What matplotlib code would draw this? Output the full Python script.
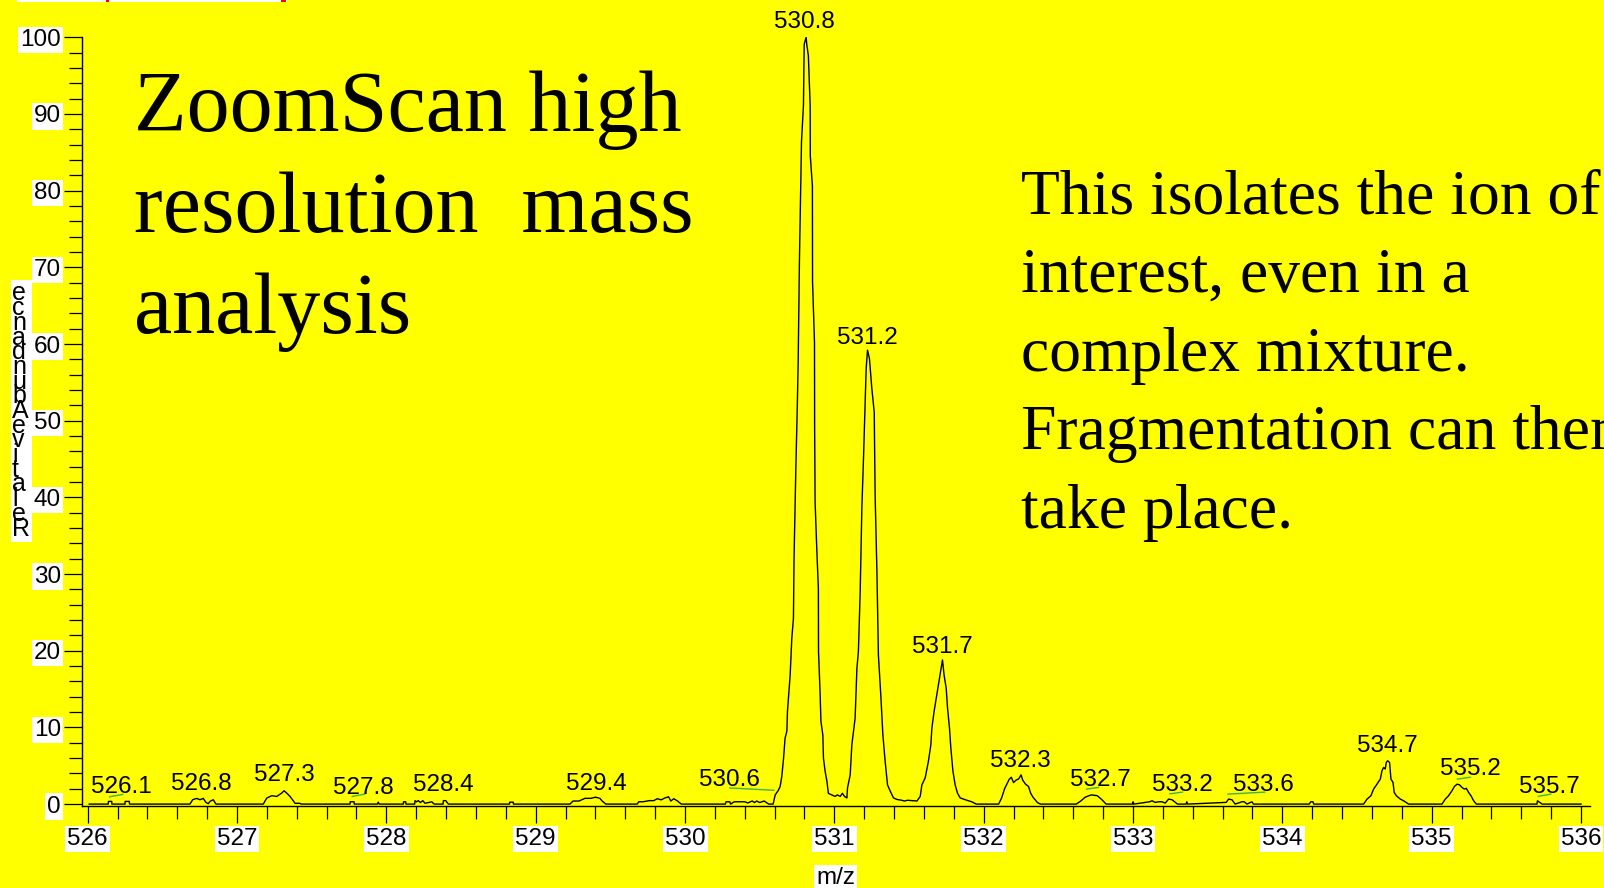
import matplotlib
matplotlib.use('Agg')
import matplotlib.pyplot as plt
from matplotlib.ticker import MultipleLocator, FormatStrFormatter
from matplotlib.patches import Rectangle

# profile spectrum (m/z, relative abundance)
mz = [526.01, 526.138, 526.139, 526.161, 526.162, 526.25, 526.251, 526.279, 526.28,
      526.685, 526.703, 526.73, 526.752, 526.774, 526.792, 526.808, 526.819, 526.841, 526.859,
      527.176, 527.199, 527.232, 527.266, 527.299, 527.315, 527.333, 527.355, 527.389, 527.42, 527.43,
      527.757, 527.758, 527.784, 527.785, 527.94, 527.946, 527.952,
      528.114, 528.115, 528.13, 528.131, 528.19, 528.192, 528.203, 528.214, 528.228, 528.244,
      528.259, 528.304, 528.32, 528.38, 528.382, 528.398, 528.415,
      528.825, 528.826, 528.85, 528.851,
      529.23, 529.25, 529.29, 529.33, 529.37, 529.40, 529.43, 529.445, 529.47,
      529.68, 529.69, 529.72, 529.76, 529.79, 529.815, 529.84, 529.865, 529.89, 529.905,
      529.925, 529.95, 529.975,
      530.27, 530.275, 530.30, 530.305, 530.33, 530.40, 530.42, 530.45, 530.465, 530.48,
      530.50, 530.53, 530.56,
      530.59, 530.604, 530.625, 530.637, 530.648, 530.66, 530.67, 530.682, 530.686, 530.704,
      530.715, 530.726, 530.73, 530.742, 530.752, 530.758, 530.766, 530.78, 530.793, 530.798,
      530.811, 530.815, 530.826, 530.838, 530.839, 530.853, 530.854, 530.867, 530.868, 530.871,
      530.883, 530.893, 530.894, 530.905, 530.91, 530.923, 530.927, 530.938, 530.95, 530.96,
      530.983, 531.005, 531.02, 531.039, 531.054, 531.068, 531.084, 531.088, 531.106, 531.117,
      531.139, 531.151, 531.161, 531.173, 531.184, 531.195, 531.206, 531.213, 531.222,
      531.235, 531.251, 531.267, 531.273, 531.285, 531.295, 531.311, 531.325, 531.34, 531.356,
      531.374, 531.396, 531.42, 531.45, 531.47, 531.49, 531.553, 531.575, 531.586, 531.608,
      531.63, 531.646, 531.653, 531.668, 531.69, 531.704, 531.713, 531.724, 531.735, 531.749,
      531.758, 531.771, 531.78, 531.794, 531.809, 531.825, 531.843, 531.887, 531.92, 531.95,
      532.10, 532.12, 532.14, 532.17, 532.185, 532.20, 532.215, 532.235, 532.25, 532.262,
      532.28, 532.30, 532.315, 532.33, 532.36, 532.38,
      532.62, 532.65, 532.68, 532.72, 532.76, 532.79, 532.82,
      532.998, 533.0, 533.006,
      533.111, 533.127, 533.149, 533.171, 533.194, 533.216, 533.238, 533.261, 533.283, 533.298,
      533.355, 533.36, 533.365,
      533.624, 533.64, 533.662, 533.684, 533.729, 533.745, 533.763, 533.796, 533.807,
      534.18, 534.19, 534.205, 534.21,
      534.544, 534.567, 534.593, 534.611, 534.634, 534.656, 534.667, 534.678, 534.689, 534.696,
      534.705, 534.718, 534.727, 534.741, 534.749, 534.763, 534.79, 534.812, 534.845,
      535.069, 535.091, 535.113, 535.136, 535.152, 535.17, 535.187, 535.203, 535.218, 535.232,
      535.247, 535.263, 535.281, 535.299,
      535.705, 535.708, 535.718, 535.739, 536.0]
intensity = [0, 0, 0.35, 0.35, 0, 0, 0.35, 0.35, 0,
             0, 0.57, 0.74, 0.57, 0.74, 0.22, 0.05, 0.35, 0.57, 0,
             0, 0.78, 1.09, 1.0, 1.43, 1.74, 1.43, 1.0, 0.1, 0.1, 0,
             0, 0.3, 0.3, 0, 0, 0.25, 0,
             0, 0.3, 0.3, 0, 0, 0.45, 0.3, 0.45, 0.2, 0.45,
             0.1, 0.3, 0, 0, 0.45, 0.45, 0,
             0, 0.25, 0.25, 0,
             0, 0.4, 0.4, 0.75, 0.75, 0.9, 0.75, 0.4, 0,
             0, 0.3, 0.3, 0.45, 0.45, 0.7, 0.55, 0.8, 0.95, 0.4,
             0.7, 0.4, 0,
             0, 0.3, 0.3, 0, 0.3, 0.3, 0.15, 0.4, 0.2, 0.4,
             0.2, 0.4, 0,
             0, 1.2, 1.8, 2.3, 3.6, 6.0, 8.6, 9.5, 12.1, 16.8,
             21.6, 24.2, 32.0, 43.7, 52.0, 58.0, 70.7, 86.4, 91.1, 99.1,
             100.0, 99.1, 97.6, 91.1, 84.5, 80.6, 68.1, 60.2, 49.0, 39.4,
             32.9, 28.1, 19.9, 14.2, 10.8, 9.0, 6.0, 4.3, 3.0, 1.4,
             1.2, 1.0, 1.2, 1.0, 1.4, 1.0, 0.8, 2.1, 3.8, 7.7,
             11.2, 17.7, 19.9, 27.7, 38.5, 45.0, 52.0, 56.8, 59.2,
             58.1, 54.2, 51.1, 40.3, 30.3, 19.4, 14.2, 9.0, 5.6, 2.5,
             1.7, 0.8, 0.6, 0.5, 0.4, 0.5, 0.4, 1.0, 2.5, 3.4,
             5.6, 7.7, 9.9, 12.1, 14.7, 16.4, 17.5, 18.8, 16.8, 15.1,
             12.5, 9.9, 7.3, 4.3, 2.5, 1.4, 0.8, 0.5, 0.3, 0,
             0, 0.8, 2.0, 3.2, 3.5, 2.8, 3.1, 3.3, 3.8, 3.1,
             2.6, 2.3, 1.4, 0.9, 0.2, 0,
             0, 0.4, 0.9, 1.2, 1.1, 0.6, 0,
             0, 0.3, 0,
             0.3, 0.43, 0.22, 0.3, 0.3, 0.13, 0.65, 0.57, 0.22, 0,
             0, 0.3, 0,
             0.22, 0.65, 0.57, 0, 0.3, 0.3, 0, 0.3, 0,
             0, 0.3, 0.3, 0,
             0, 0.65, 1.09, 1.96, 2.61, 3.26, 4.35, 4.78, 4.57, 5.43,
             5.65, 5.43, 3.26, 2.83, 1.52, 1.09, 0.65, 0.43, 0,
             0, 0.65, 1.09, 1.74, 2.3, 2.6, 2.5, 2.17, 1.96, 2.05,
             1.52, 1.09, 0.43, 0,
             0, 0.43, 0.3, 0, 0]

# peak labels (baseline position in data units)
peak_labels = ["526.1", "526.8", "527.3", "527.8", "528.4", "529.4", "530.6", "530.8",
               "531.2", "531.7", "532.3", "532.7", "533.2", "533.6", "534.7", "535.2", "535.7"]
label_mz = [526.226, 526.76, 527.315, 527.848, 528.384, 529.405, 530.30, 530.802,
            531.221, 531.72, 532.244, 532.78, 533.332, 533.876, 534.70, 535.256, 535.79]
label_y = [1.4, 1.9, 3.0, 1.3, 1.7, 1.9, 2.3, 101.2,
           60.0, 19.7, 4.9, 2.3, 1.7, 1.7, 6.8, 3.8, 1.4]

# little green leader lines under some labels
leader_x0 = [526.147, 527.772, 530.30, 532.688, 533.247, 533.636, 535.172, 535.714]
leader_x1 = [526.234, 527.855, 530.595, 532.768, 533.332, 533.882, 535.257, 535.797]
leader_y0 = [0.95, 1.0, 2.1, 1.95, 1.34, 1.3, 3.25, 1.0]
leader_y1 = [1.26, 1.3, 1.8, 2.17, 1.56, 1.56, 3.5, 1.3]

title = "ZoomScan high\nresolution  mass\nanalysis"
note = ("This isolates the ion of\ninterest, even in a\ncomplex mixture.\n"
        "Fragmentation can then\ntake place.")

YELLOW = '#ffff00'
W, H = 1604, 888

fig = plt.figure(figsize=(W / 100, H / 100), dpi=100, facecolor=YELLOW)
ax = fig.add_axes([81.7 / W, 82 / H, (1590 - 81.7) / W, (806 - 37.3) / H])
ax.set_facecolor(YELLOW)

ax.plot(mz, intensity, color='black', lw=1.0)
for x0, x1, y0, y1 in zip(leader_x0, leader_x1, leader_y0, leader_y1):
    ax.plot([x0, x1], [y0, y1], color='#3cb44b', lw=1.0)

for lab, x, y in zip(peak_labels, label_mz, label_y):
    ax.text(x, y, lab, ha='center', va='baseline', fontsize=17.5,
            family='Liberation Sans', clip_on=False)

ax.set_xlim(525.96, 536.06)
ax.set_ylim(-0.25, 100)
for s in ['top', 'right']:
    ax.spines[s].set_visible(False)
for s in ['left', 'bottom']:
    ax.spines[s].set_linewidth(1.0)

ax.xaxis.set_major_locator(MultipleLocator(1))
ax.xaxis.set_minor_locator(MultipleLocator(0.2))
ax.yaxis.set_major_locator(MultipleLocator(10))
ax.yaxis.set_minor_locator(MultipleLocator(2))
ax.xaxis.set_major_formatter(FormatStrFormatter('%d'))
ax.yaxis.set_major_formatter(FormatStrFormatter('%d'))
ax.tick_params(axis='x', which='major', length=12, width=0.9, pad=4, labelsize=17.5)
ax.tick_params(axis='x', which='minor', length=9.5, width=0.9)
ax.tick_params(axis='y', which='major', length=13, width=0.9, pad=2, labelsize=17.5)
ax.tick_params(axis='y', which='minor', length=9.5, width=0.9)
for lab in ax.get_xticklabels() + ax.get_yticklabels():
    lab.set_family('Liberation Sans')
    lab.set_bbox(dict(facecolor='white', edgecolor='none', pad=1.5))

# axis titles
fig.text(835.6 / W, 1 - 878 / H, 'm/z', ha='center', va='center', fontsize=17.5,
         family='Liberation Sans',
         bbox=dict(facecolor='white', edgecolor='none', pad=1.5))
ylab = "\n".join(reversed("RelativeAbundance"))
fig.text(12 / W, 1 - 411 / H, ylab, ha='left', va='center', ma='left', fontsize=18,
         family='Liberation Sans', linespacing=0.51,
         bbox=dict(facecolor='white', edgecolor='none', pad=1))

# slide text (baseline of the last line)
fig.text(134 / W, 1 - 332.5 / H, title, ha='left', va='baseline', fontsize=62,
         family='Liberation Serif', linespacing=1.35)
fig.text(1021 / W, 1 - 528 / H, note, ha='left', va='baseline', fontsize=45.8,
         family='Liberation Serif', linespacing=1.47)

# cut-off box at the very top edge
fig.patches.append(Rectangle((17 / W, 1 - 2 / H), 270 / W, 2 / H, transform=fig.transFigure,
                             facecolor='white', edgecolor='none'))
fig.patches.append(Rectangle((106 / W, 1 - 2 / H), 3 / W, 2 / H, transform=fig.transFigure,
                             facecolor='red', edgecolor='none'))
fig.patches.append(Rectangle((281 / W, 1 - 2 / H), 5 / W, 2 / H, transform=fig.transFigure,
                             facecolor='red', edgecolor='none'))

fig.savefig('out.png', dpi=100, facecolor=YELLOW)
